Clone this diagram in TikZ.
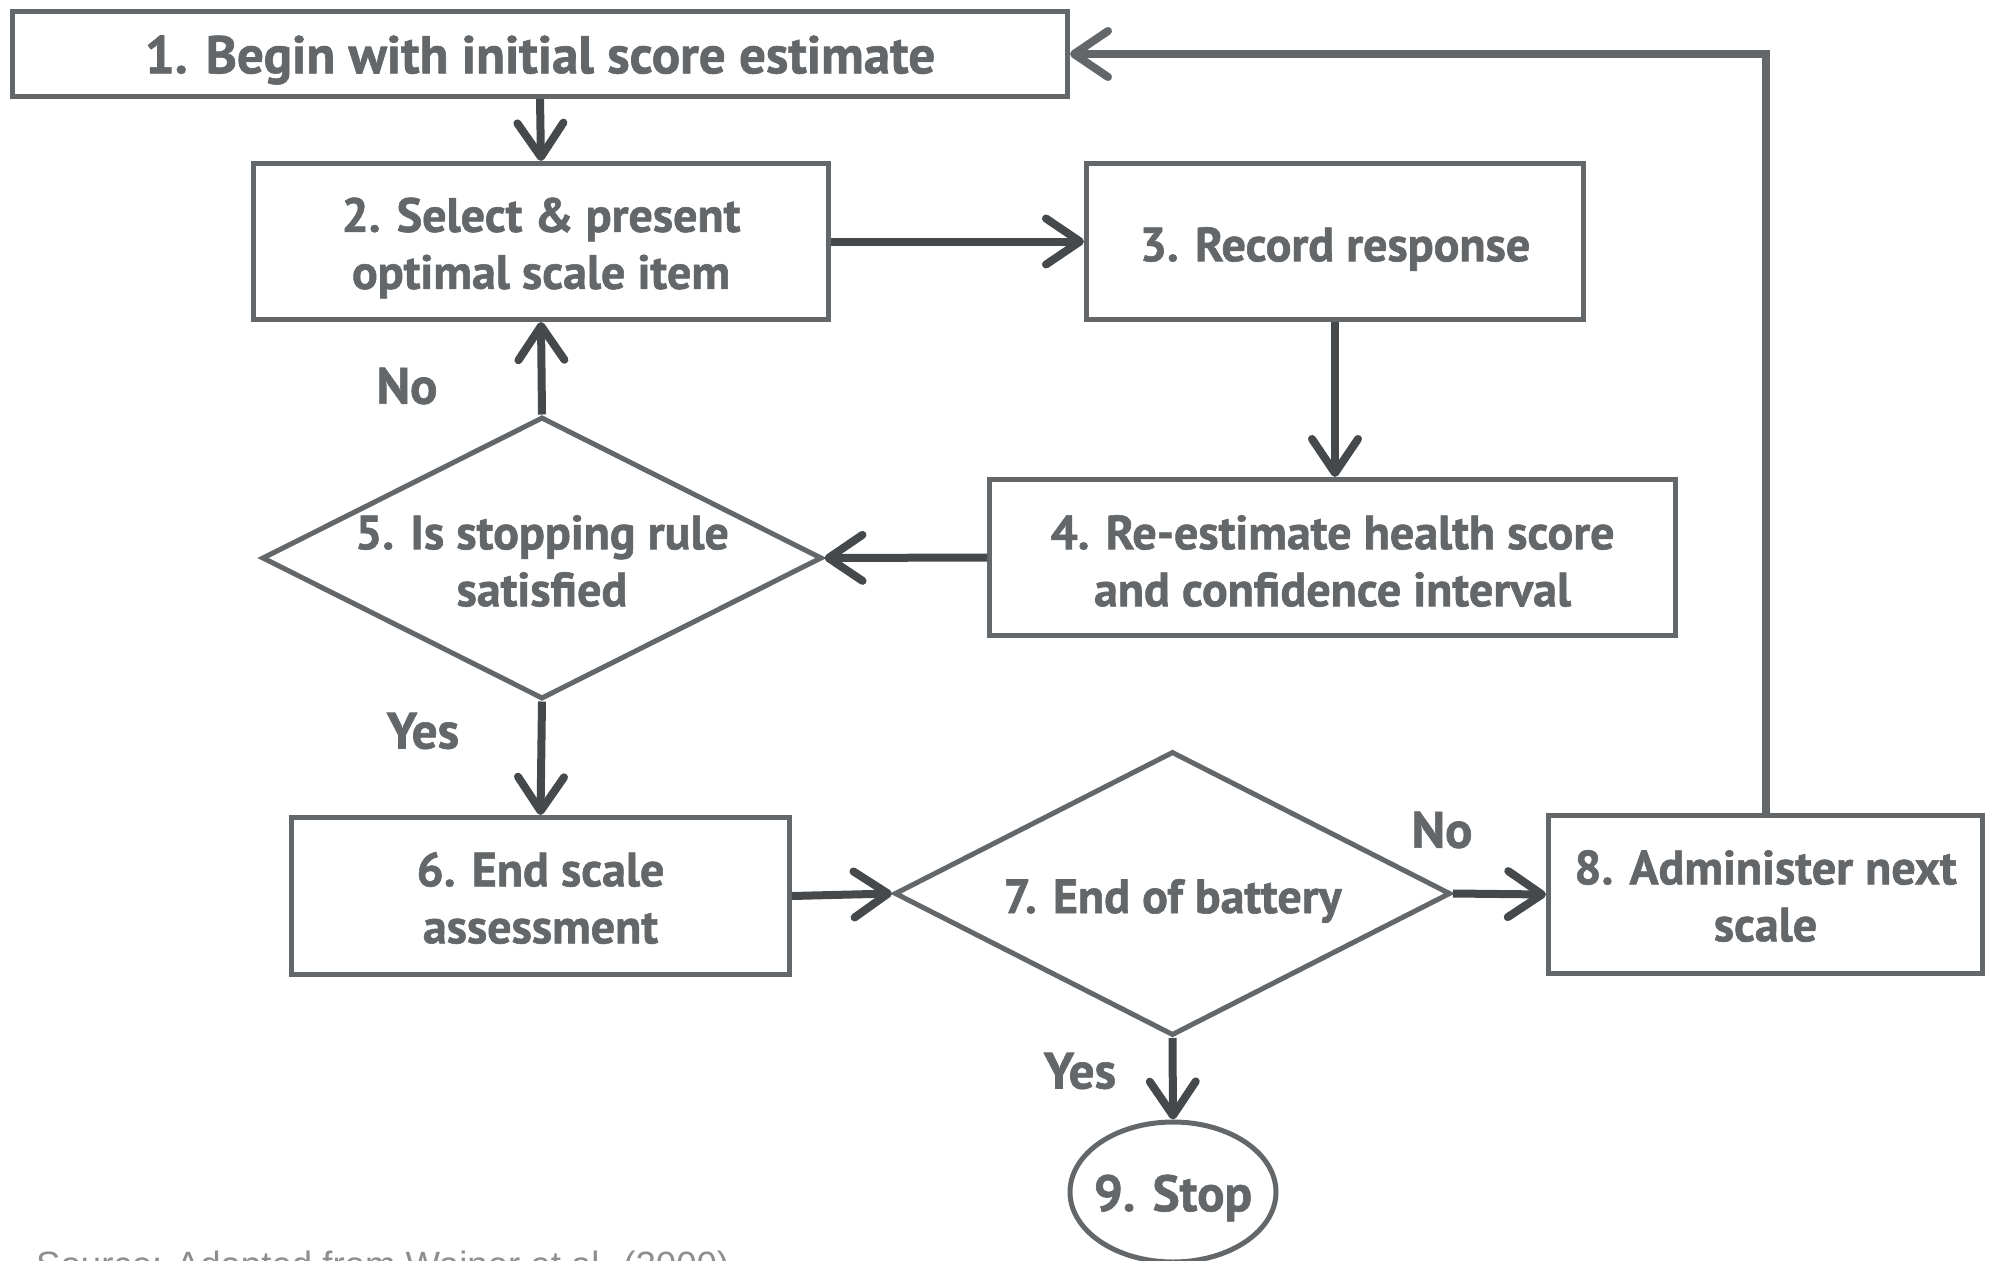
\documentclass[tikz,border=0pt]{standalone}
\usepackage{fontspec}
\setmainfont{PT Sans}[BoldFeatures={FakeBold=1.2}]
\newfontfamily\srcfont{Liberation Sans}
\usetikzlibrary{shapes.geometric,arrows.meta}
\definecolor{boxgray}{HTML}{646769}
\definecolor{arrgray}{HTML}{46494C}
\definecolor{srcgray}{HTML}{8C8E90}
\begin{document}
\begin{tikzpicture}[x=1pt,y=-1pt,
  lbl/.style={font=\bfseries\fontsize{48}{57}\selectfont, text=boxgray, align=center},
  procbox/.style={draw=boxgray, line width=5pt, rectangle, inner sep=0pt},
  decis/.style={draw=boxgray, line width=5pt, diamond, inner sep=0pt},
  conn/.style={draw=arrgray, line width=8pt, -{Straight Barb[length=34pt,width=46pt,round]}},
  backconn/.style={draw=boxgray, line width=8pt, line join=miter, -{Straight Barb[length=34pt,width=46pt,round]}}
]
\useasboundingbox (0,0) rectangle (1990,1261);
\fill[white] (0,0) rectangle (1990,1261);

\node[procbox, minimum width=1055, minimum height=85] (b1) at (540,54) {};
\node[lbl, font=\bfseries\fontsize{53}{60}\selectfont] (t1) at (540,60) {1. Begin with initial score estimate};
\node[procbox, minimum width=575, minimum height=156] (b2) at (541,241.5) {};
\node[lbl] (t2) at (541,248) {2. Select \& present\\optimal scale item};
\node[procbox, minimum width=497, minimum height=156] (b3) at (1335,241.5) {};
\node[lbl] (t3) at (1335,249) {3. Record response};
\node[procbox, minimum width=686, minimum height=156] (b4) at (1332.5,557.5) {};
\node[lbl] (t4) at (1332.5,561) {4. Re-estimate health score\\and confidence interval};
\node[decis, minimum width=560, minimum height=282] (d5) at (542,558) {};
\node[lbl] (t5) at (542,561) {5. Is stopping rule\\satisfied};
\node[procbox, minimum width=498, minimum height=157] (b6) at (540.5,896) {};
\node[lbl] (t6) at (540.5,898) {6. End scale\\assessment};
\node[decis, minimum width=556, minimum height=284] (d7) at (1172.5,893.5) {};
\node[lbl] (t7) at (1172.5,901) {7. End of battery};
\node[procbox, minimum width=434, minimum height=158] (b8) at (1765.5,894.5) {};
\node[lbl] (t8) at (1765.5,896) {8. Administer next\\scale};
\node[draw=boxgray, line width=5pt, ellipse, inner sep=0pt, minimum width=206, minimum height=140] (e9) at (1173,1192) {};
\node[lbl, font=\bfseries\fontsize{51}{60}\selectfont] (t9) at (1173,1198) {9. Stop};

\draw[conn] (b1.south) -- (b2.north);
\draw[conn] (b2.east) -- (b3.west);
\draw[conn] (b3.south) -- (b4.north -| b3.south);
\draw[conn] (b4.west) -- (d5.east);
\draw[conn] (d5.north) -- (b2.south);
\draw[conn] (d5.south) -- (b6.north);
\draw[conn] (b6.east) -- (d7.west);
\draw[conn] (d7.east) -- (b8.west);
\draw[conn] (d7.south) -- (e9.north);
\draw[backconn] (b8.north) |- (b1.east);

\node[lbl, font=\bfseries\fontsize{51}{60}\selectfont] (no1) at (407,386) {No};
\node[lbl, font=\bfseries\fontsize{51}{60}\selectfont] (yes1) at (423,731) {Yes};
\node[lbl, font=\bfseries\fontsize{51}{60}\selectfont] (no2) at (1442,830) {No};
\node[lbl, font=\bfseries\fontsize{51}{60}\selectfont] (yes2) at (1080,1071) {Yes};

\node[anchor=base west, inner sep=0pt, font=\srcfont\fontsize{36.6}{42}\selectfont, text=srcgray] (src) at (36,1277) {Source: Adapted from Wainer et al. (2000)};
\end{tikzpicture}
\end{document}
